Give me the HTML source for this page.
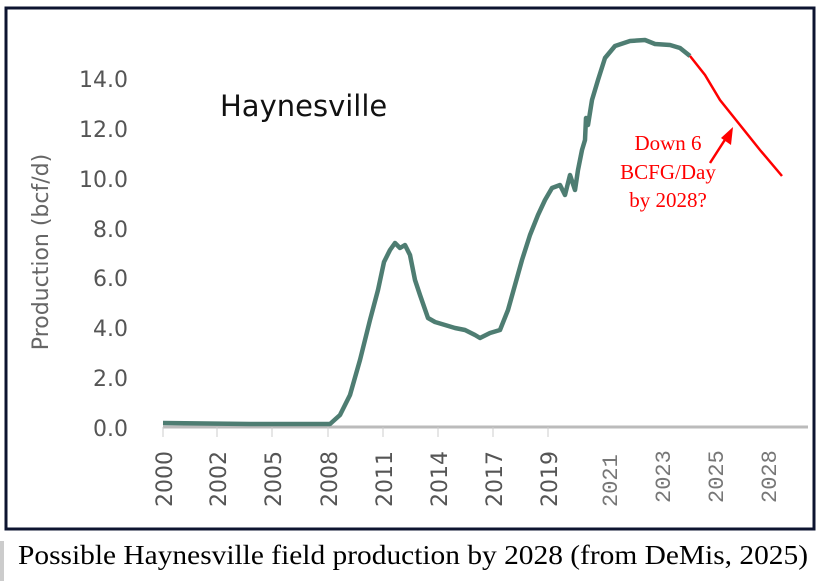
<!DOCTYPE html>
<html><head><style>
body{margin:0;background:#fff;width:821px;height:583px;overflow:hidden;position:relative;font-family:"Liberation Sans",sans-serif}
</style></head><body>
<svg width="821" height="583" style="position:absolute;left:0;top:0">
<rect x="6" y="8" width="808" height="521" fill="#fff" stroke="#0d1430" stroke-width="3"/>
<g font-family="DejaVu Sans, Liberation Sans, sans-serif" font-size="22" fill="#555" text-anchor="end">
<text x="128" y="87">14.0</text><text x="128" y="137">12.0</text><text x="128" y="187">10.0</text>
<text x="128" y="237">8.0</text><text x="128" y="286">6.0</text><text x="128" y="336">4.0</text>
<text x="128" y="386">2.0</text><text x="128" y="436">0.0</text>
</g>
<text transform="translate(48,252) rotate(-90)" text-anchor="middle" font-family="DejaVu Sans, sans-serif" font-size="22" fill="#666">Production (bcf/d)</text>
<text x="220" y="116" font-family="DejaVu Sans, sans-serif" font-size="29" fill="#111">Haynesville</text>
<line x1="163" y1="427" x2="808" y2="427" stroke="#bbb" stroke-width="3"/>
<g stroke="#ccc" stroke-width="1">
<line x1="163" y1="427" x2="163" y2="437"/><line x1="217" y1="427" x2="217" y2="437"/><line x1="272" y1="427" x2="272" y2="437"/><line x1="328" y1="427" x2="328" y2="437"/><line x1="383" y1="427" x2="383" y2="437"/><line x1="438" y1="427" x2="438" y2="437"/><line x1="493" y1="427" x2="493" y2="437"/><line x1="548" y1="427" x2="548" y2="437"/>
</g>
<g font-family="DejaVu Sans, sans-serif" font-size="22" fill="#555">
<text transform="translate(172,507) rotate(-90)">2000</text>
<text transform="translate(226,507) rotate(-90)">2002</text>
<text transform="translate(281,507) rotate(-90)">2005</text>
<text transform="translate(337,507) rotate(-90)">2008</text>
<text transform="translate(392,507) rotate(-90)">2011</text>
<text transform="translate(447,507) rotate(-90)">2014</text>
<text transform="translate(502,507) rotate(-90)">2017</text>
<text transform="translate(557,507) rotate(-90)">2019</text>
</g>
<g font-family="Liberation Mono, monospace" font-size="22" fill="#777">
<text transform="translate(617,507) rotate(-90)">2021</text>
<text transform="translate(670,503) rotate(-90)">2023</text>
<text transform="translate(723,503) rotate(-90)">2025</text>
<text transform="translate(776,503) rotate(-90)">2028</text>
</g>
<polyline fill="none" stroke="#4e7d72" stroke-width="4.5" stroke-linejoin="round" points="163,423 250,424 330,424 340,415 350,395 360,360 370,320 378,290 384,262 390,250 395,243 400,248 405,245 410,255 415,280 420,295 428,318 435,322 445,325 455,328 465,330 475,335 480,338 490,333 500,330 508,310 515,285 522,260 530,235 538,215 545,200 552,188 560,185 565,195 570,175 575,190 578,170 582,150 585,140 586,118 588,125 592,100 598,80 605,58 615,46 630,41 645,40 655,44 670,45 680,48 690,56"/>
<polyline fill="none" stroke="#f00" stroke-width="2.5" points="690,56 705,75 720,100 740,125 760,150 782,176"/>
<line x1="710" y1="163" x2="728" y2="135" stroke="#f00" stroke-width="2.5"/>
<polygon points="733,127 731,145 721,138" fill="#f00"/>
<g font-family="Liberation Serif, serif" font-size="21" fill="#f00" text-anchor="middle">
<text x="668" y="150">Down 6</text><text x="668" y="179">BCFG/Day</text><text x="668" y="207">by 2028?</text>
</g>
<rect x="0" y="541" width="4" height="40" fill="#ccc"/>
<text x="18" y="564" font-family="Liberation Serif, serif" font-size="27" fill="#000" textLength="790" lengthAdjust="spacingAndGlyphs">Possible Haynesville field production by 2028 (from DeMis, 2025)</text>
</svg>
</body></html>
